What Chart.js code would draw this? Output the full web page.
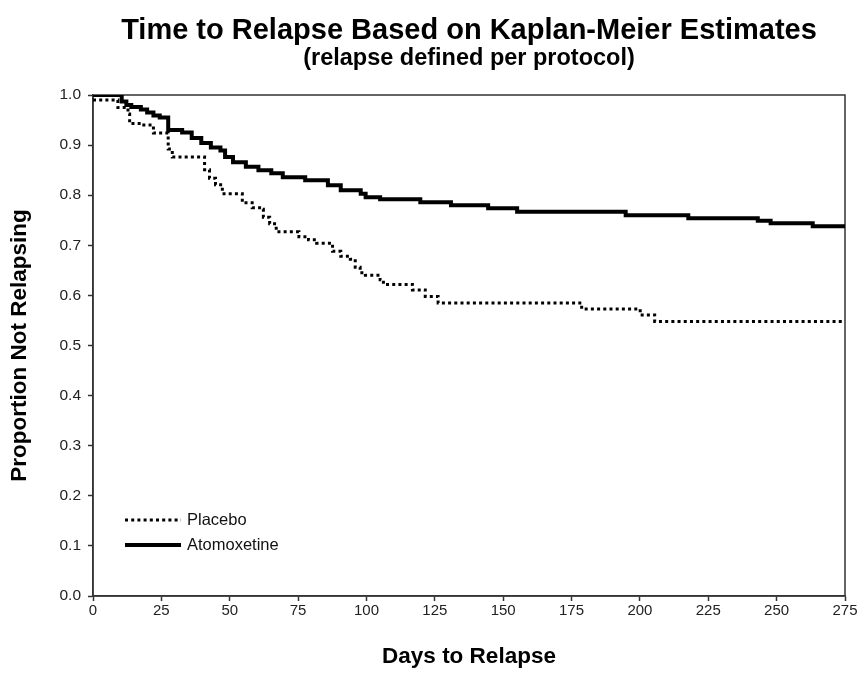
<!DOCTYPE html>
<html>
<head>
<meta charset="utf-8">
<script src="https://cdn.jsdelivr.net/npm/chart.js@4.4.1/dist/chart.umd.min.js"></script>
<style>
  html, body { margin: 0; padding: 0; background: #ffffff; }
  #wrap { width: 862px; height: 695px; }
</style>
</head>
<body>
<div id="wrap"><canvas id="c" width="862" height="695"></canvas></div>
<script>
// ---- Data ----
const atomoxetineDays = [0, 10.5, 12.2, 14, 17.5, 19.8, 22.1, 24.4, 27.5, 32.6, 36.1, 39.6, 43.1, 46.6, 48.3, 51.2, 55.9, 60.5, 65.2, 69.4, 77.6, 85.9, 90.6, 97.9, 99.7, 105, 119.7, 130.9, 144.5, 155.1, 194.8, 217.7, 243.1, 247.8, 263.2, 275];
const atomoxetineSurv = [1.0, 0.987, 0.98, 0.976, 0.971, 0.965, 0.959, 0.955, 0.93, 0.925, 0.914, 0.904, 0.895, 0.889, 0.876, 0.866, 0.857, 0.85, 0.844, 0.836, 0.83, 0.82, 0.81, 0.803, 0.796, 0.792, 0.786, 0.78, 0.774, 0.767, 0.76, 0.754, 0.749, 0.744, 0.738, 0.738];

const placeboDays = [0, 9.1, 12.8, 13.4, 18, 22.1, 27.5, 29, 40.8, 42.6, 44.8, 47.3, 54.6, 58.2, 61.7, 62.3, 64.6, 67, 75.3, 78.8, 81.8, 87.6, 90.6, 94.1, 95.9, 97.7, 99.6, 105, 106.2, 116.8, 121.5, 126.2, 178.7, 200.1, 205.4, 275];
const placeboSurv = [0.99, 0.975, 0.962, 0.943, 0.94, 0.924, 0.892, 0.876, 0.851, 0.834, 0.821, 0.803, 0.785, 0.775, 0.772, 0.756, 0.743, 0.727, 0.717, 0.711, 0.704, 0.688, 0.678, 0.672, 0.656, 0.645, 0.64, 0.631, 0.622, 0.611, 0.598, 0.585, 0.573, 0.561, 0.548, 0.548];

const seriesNames = ['Placebo', 'Atomoxetine'];
const xTickStep = 25;
const yTickStep = 0.1;

const titleText = 'Time to Relapse Based on Kaplan-Meier Estimates';
const subtitleText = '(relapse defined per protocol)';
const xTitle = 'Days to Relapse';
const yTitle = 'Proportion Not Relapsing';

const FONT = '"Liberation Sans", Arial, Helvetica, sans-serif';
const AXIS = '#333333';

function toPoints(days, vals) { return days.map((d, i) => ({ x: d, y: vals[i] })); }

// Frame around the plot area
const framePlugin = {
  id: 'frame',
  beforeDatasetsDraw(chart) {
    const { ctx, chartArea: a } = chart;
    ctx.save();
    ctx.strokeStyle = AXIS;
    ctx.lineWidth = 1.5;
    ctx.strokeRect(a.left, a.top, a.right - a.left, a.bottom - a.top);
    ctx.restore();
  }
};

// Legend inside plot, lower-left
const insideLegend = {
  id: 'insideLegend',
  afterDatasetsDraw(chart) {
    const { ctx } = chart;
    const rows = [
      { ds: chart.data.datasets[0], y: 520 },
      { ds: chart.data.datasets[1], y: 545 }
    ];
    ctx.save();
    rows.forEach(r => {
      ctx.beginPath();
      ctx.strokeStyle = r.ds.borderColor;
      ctx.lineWidth = r.ds.borderWidth;
      ctx.setLineDash(r.ds.borderDash || []);
      ctx.lineCap = 'butt';
      ctx.moveTo(125, r.y);
      ctx.lineTo(181, r.y);
      ctx.stroke();
      ctx.setLineDash([]);
      ctx.fillStyle = '#111';
      ctx.font = '16.5px ' + FONT;
      ctx.textBaseline = 'middle';
      ctx.textAlign = 'left';
      ctx.fillText(r.ds.label, 187, r.y);
    });
    ctx.restore();
  }
};

new Chart(document.getElementById('c'), {
  type: 'line',
  data: {
    datasets: [
      {
        label: seriesNames[0],
        data: toPoints(placeboDays, placeboSurv),
        borderColor: '#000000',
        borderWidth: 3,
        borderDash: [3, 3.2],
        borderCapStyle: 'butt',
        stepped: true,
        pointRadius: 0,
        fill: false
      },
      {
        label: seriesNames[1],
        data: toPoints(atomoxetineDays, atomoxetineSurv),
        borderColor: '#000000',
        borderWidth: 4,
        stepped: true,
        pointRadius: 0,
        fill: false
      }
    ]
  },
  options: {
    responsive: false,
    animation: false,
    devicePixelRatio: 1,
    layout: { padding: { left: 0, right: 17, top: 0, bottom: 0 } },
    plugins: {
      legend: { display: false },
      tooltip: { enabled: false },
      title: {
        display: true,
        text: titleText,
        fullSize: false,
        color: '#000',
        font: { family: FONT, size: 29, weight: 'bold', lineHeight: 1.0 },
        padding: { top: 16, bottom: 0 }
      },
      subtitle: {
        display: true,
        text: subtitleText,
        fullSize: false,
        color: '#000',
        font: { family: FONT, size: 23.5, weight: 'bold', lineHeight: 1.0 },
        padding: { top: 2, bottom: 24.5 }
      }
    },
    scales: {
      x: {
        type: 'linear',
        min: 0,
        max: 275,
        afterFit(s) { s.height = 99; },
        ticks: {
          stepSize: xTickStep,
          color: '#222',
          font: { family: FONT, size: 15 },
          padding: 1,
          maxRotation: 0,
          callback: v => String(v)
        },
        grid: { drawOnChartArea: false, drawTicks: true, tickLength: 5, tickColor: AXIS, tickWidth: 1.5 },
        border: { display: true, color: AXIS, width: 1.5 },
        title: {
          display: true,
          text: xTitle,
          color: '#000',
          font: { family: FONT, size: 22.5, weight: 'bold', lineHeight: 1.0 },
          padding: { top: 0, bottom: 27 }
        }
      },
      y: {
        type: 'linear',
        min: 0,
        max: 1,
        afterFit(s) { s.width = 93; },
        ticks: {
          stepSize: yTickStep,
          color: '#222',
          font: { family: FONT, size: 15.5 },
          padding: 7,
          callback: v => Number(v).toFixed(1)
        },
        grid: { drawOnChartArea: false, drawTicks: true, tickLength: 5, tickColor: AXIS, tickWidth: 1.5 },
        border: { display: true, color: AXIS, width: 1.5 },
        title: {
          display: true,
          text: yTitle,
          color: '#000',
          font: { family: FONT, size: 22.5, weight: 'bold', lineHeight: 1.2 },
          padding: { top: 6, bottom: 0 }
        }
      }
    }
  },
  plugins: [framePlugin, insideLegend]
});
</script>
</body>
</html>
